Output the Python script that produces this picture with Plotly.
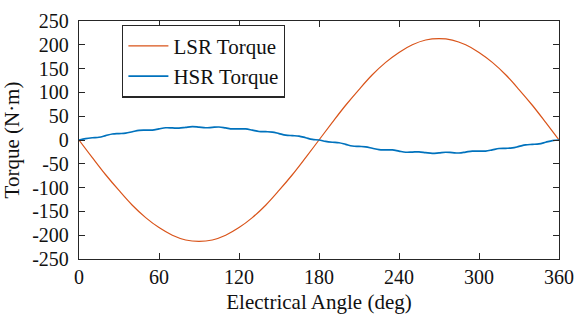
import plotly.graph_objects as go

# Electrical angle samples (deg)
angle_lsr = list(range(0, 361, 10))
angle_hsr = list(range(0, 361, 5))

# LSR torque (N·m), every 10 deg
lsr_torque = [
    0, -37, -73, -106, -137, -163, -184, -200, -210, -213,
    -210, -200, -184, -163, -137, -106, -73, -37, 0,
    37, 73, 106, 137, 163, 184, 200, 210, 213,
    210, 200, 184, 163, 137, 106, 73, 37, 0,
]

# HSR torque (N·m), every 5 deg, with slot ripple
hsr_torque = [
    0, 3.0, 4.7, 5.8, 9.2, 12.6, 13.5, 14.3, 17.4, 20.3,
    20.7, 20.9, 23.4, 25.7, 25.4, 24.9, 26.6, 28.1, 27.0,
    25.7, 26.6, 27.3, 25.4, 23.3, 23.4, 23.3, 20.7, 17.9,
    17.4, 16.7, 13.5, 10.2, 9.2, 8.2, 4.7, 1.2, 0,
    -3.0, -4.7, -5.8, -9.2, -12.6, -13.5, -14.3, -17.4, -20.3,
    -20.7, -20.9, -23.4, -25.7, -25.4, -24.9, -26.6, -28.1, -27.0,
    -25.7, -26.6, -27.3, -25.4, -23.3, -23.4, -23.3, -20.7, -17.9,
    -17.4, -16.7, -13.5, -10.2, -9.2, -8.2, -4.7, -1.2, 0,
]

x_ticks = [0, 60, 120, 180, 240, 300, 360]
y_ticks = [-250, -200, -150, -100, -50, 0, 50, 100, 150, 200, 250]
y_tick_labels = ["-250", "-200", "-150", "-100", "-50", "0",
                 "50", "100", "150", "200", "250"]

FONT = "Liberation Serif"
AX = "#262626"

fig = go.Figure()
fig.add_trace(go.Scatter(
    x=angle_lsr, y=lsr_torque, mode="lines", name="LSR Torque",
    line=dict(color="#D95319", width=1.2, shape="spline"),
))
fig.add_trace(go.Scatter(
    x=angle_hsr, y=hsr_torque, mode="lines", name="HSR Torque",
    line=dict(color="#0072BD", width=1.7, shape="spline"),
))

axis_common = dict(
    showline=True, linecolor=AX, linewidth=1.3, mirror="ticks",
    ticks="inside", ticklen=6, tickwidth=1.2, tickcolor=AX,
    showgrid=False, zeroline=False,
    tickfont=dict(family=FONT, size=20, color="#111"),
    title_font=dict(family=FONT, size=21, color="#111"),
)

fig.update_layout(
    width=584, height=320,
    margin=dict(l=79, r=15, t=10, b=60),
    paper_bgcolor="white", plot_bgcolor="white",
    xaxis=dict(range=[0, 360], tickvals=x_ticks,
               title=dict(text="Electrical Angle (deg)", standoff=7),
               **axis_common),
    yaxis=dict(range=[-250, 250], tickvals=y_ticks, ticktext=y_tick_labels,
               ticklabelstandoff=5,
               title=dict(text="Torque (N·m)", standoff=6),
               **axis_common),
    legend=dict(
        x=0.09, y=0.985, xanchor="left", yanchor="top",
        bgcolor="white", bordercolor=AX, borderwidth=1.2,
        font=dict(family=FONT, size=21, color="#111"),
        itemwidth=40,
    ),
    showlegend=True,
)

fig.write_html("out.html")
